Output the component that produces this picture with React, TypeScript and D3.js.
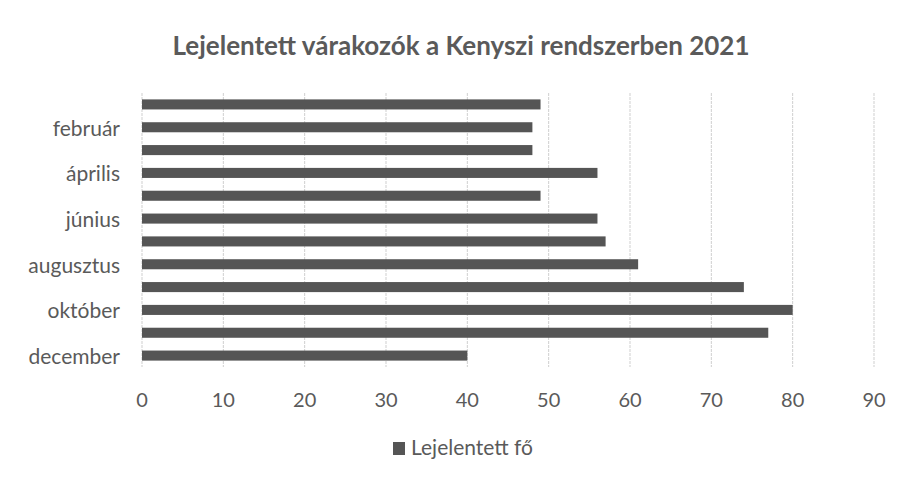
import React from "react";
import * as d3 from "d3";

const months = ["január","február","március","április","május","június","július","augusztus","szeptember","október","november","december"];
const values = [49,48,48,56,49,56,57,61,74,80,77,40];
const xTicks = [0,10,20,30,40,50,60,70,80,90];
const shownLabels = ["február","április","június","augusztus","október","december"];
const title = "Lejelentett várakozók a Kenyszi rendszerben 2021";
const seriesName = "Lejelentett fő";

export default function App() {
  const W = 903, H = 483;
  const left = 142, right = 874, top = 93, bottom = 367;
  const x = d3.scaleLinear().domain([0, 90]).range([left, right]);
  const y = d3.scaleBand().domain(months).range([top, bottom]).paddingInner(0.56).paddingOuter(0.28);
  const font = "Lato, 'Open Sans', sans-serif";
  const textColor = "#5a5a5a";
  const barColor = "#555555";
  return (
    <svg width={W} height={H} style={{ position: "absolute", left: 0, top: 0, background: "#fff" }}>
      <rect x={0} y={0} width={W} height={H} fill="#fff" />
      <text x={461} y={55} textAnchor="middle" fontFamily={font} fontWeight="bold" fontSize={26} fill={textColor}>{title}</text>
      {xTicks.map(t => (
        <line key={"g"+t} x1={x(t)} x2={x(t)} y1={top} y2={bottom} stroke="#cfcfcf" strokeWidth={1} strokeDasharray="3,1" />
      ))}
      {months.map((m, i) => (
        <rect key={m} x={x(0)} y={y(m)!} width={x(values[i]) - x(0)} height={y.bandwidth()} fill={barColor} />
      ))}
      {months.filter(m => shownLabels.includes(m)).map(m => (
        <text key={"l"+m} x={120} y={y(m)! + y.bandwidth() / 2 + 1} dy="0.35em" textAnchor="end" fontFamily={font} fontSize={21} fill={textColor}>{m}</text>
      ))}
      {xTicks.map(t => (
        <text key={"t"+t} x={x(t)} y={400} dy="0.35em" textAnchor="middle" fontFamily={font} fontSize={20} fill={textColor}>{t}</text>
      ))}
      <rect x={393} y={442} width={12} height={13} fill={barColor} />
      <text x={411} y={448} dy="0.35em" fontFamily={font} fontSize={21} fill={textColor}>{seriesName}</text>
    </svg>
  );
}
